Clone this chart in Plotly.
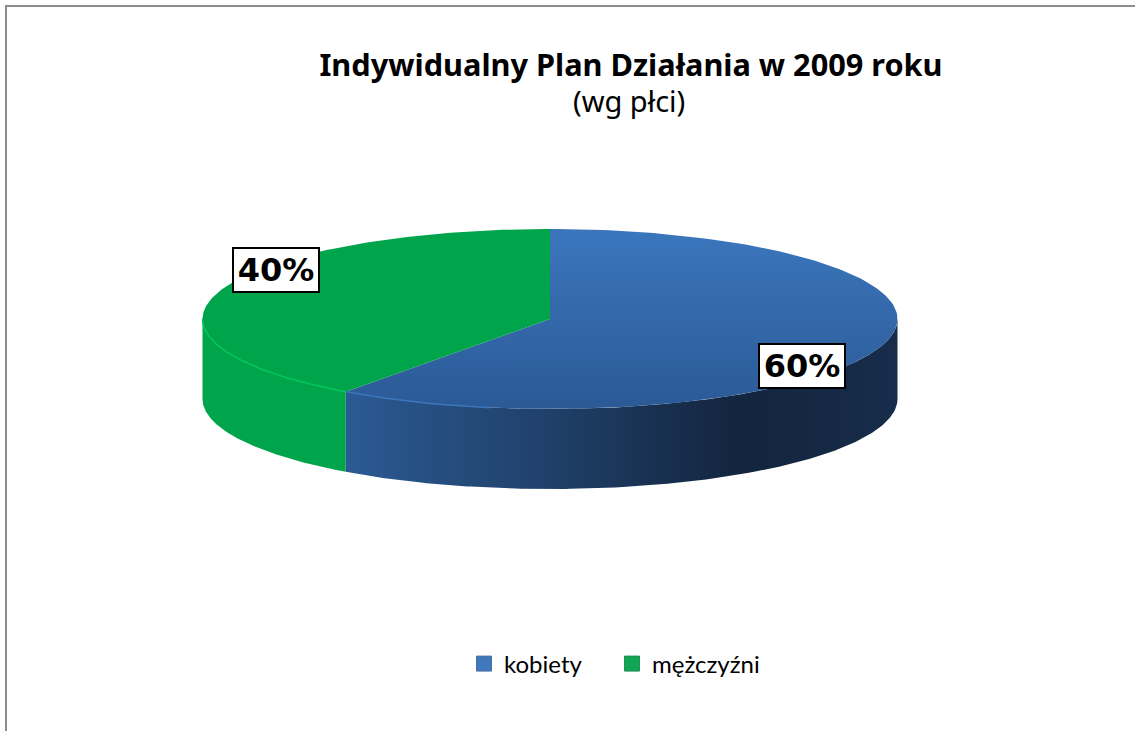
import numpy as np
import plotly.graph_objects as go

# data
categories = ["kobiety", "mężczyźni"]
shares = [60, 40]
top_colors = [["#3b76bd", "#2b5a96"], ["#00a44a", "#00a44a"]]
legend_colors = ["#3f78bd", "#10a655"]
legend_borders = ["#4a6f9c", "#1f8f58"]

W, H = 1135, 731
# pie geometry, in pixels of the page (y measured upwards)
CX, CY = 550, H - 319
RX, RY = 347.5, 90
DEPTH = 80


def arc(a, b, drop=0):
    t = np.radians(np.linspace(a, b, 200))
    return CX + RX * np.sin(t), CY + RY * np.cos(t) - drop


def top_slice(a, b):
    x, y = arc(a, b)
    return np.r_[CX, x, CX], np.r_[CY, y, CY]


def side_slice(a, b):
    x1, y1 = arc(a, b)
    x2, y2 = arc(b, a, DEPTH)
    return np.r_[x1, x2, x1[0]], np.r_[y1, y2, y1[0]]


fig = go.Figure()

edges = np.r_[0, np.cumsum(shares)] * 360 / sum(shares)

# side walls first, only the front half can be seen
side_scale = [[0, "#2b5a93"], [0.37, "#1f4069"], [0.72, "#13243e"], [1, "#172d4b"]]
a, b = max(edges[0], 90), min(edges[1], 270)
x, y = side_slice(a, b)
fig.add_trace(go.Scatter(x=x, y=y, mode="lines", line=dict(width=0), fill="toself",
                         fillgradient=dict(type="horizontal", colorscale=side_scale),
                         showlegend=False, hoverinfo="skip"))
a, b = max(edges[1], 90), min(edges[2], 270)
x, y = side_slice(a, b)
fig.add_trace(go.Scatter(x=x, y=y, mode="lines", line=dict(width=0), fill="toself",
                         fillcolor="#00a44a", showlegend=False, hoverinfo="skip"))

# top faces
for i in range(len(shares)):
    x, y = top_slice(edges[i], edges[i + 1])
    scale = [[0, top_colors[i][1]], [1, top_colors[i][0]]]
    fig.add_trace(go.Scatter(x=x, y=y, mode="lines", line=dict(width=0), fill="toself",
                             fillgradient=dict(type="vertical", colorscale=scale),
                             showlegend=False, hoverinfo="skip"))

# light rim along the front edge
x, y = arc(edges[1], 270)
fig.add_trace(go.Scatter(x=x, y=y, mode="lines", line=dict(width=1.5, color="#00c85a"),
                         showlegend=False, hoverinfo="skip"))
x, y = arc(edges[1], 190)
fig.add_trace(go.Scatter(x=x, y=y, mode="lines", line=dict(width=1.5, color="#3b76bd"),
                         showlegend=False, hoverinfo="skip"))

# legend entries
for name, color, border in zip(categories, legend_colors, legend_borders):
    fig.add_trace(go.Scatter(x=[None], y=[None], mode="markers", name=name,
                             marker=dict(symbol="square", size=15, color=color,
                                         line=dict(width=1, color=border))))

label_pos = [(801.5, H - 366), (276, H - 270)]
for share, (lx, ly) in zip(shares, label_pos):
    fig.add_annotation(x=lx, y=ly, text=f"<b>{share}%</b>", showarrow=False,
                       font=dict(family="DejaVu Sans", size=32, color="black"),
                       bgcolor="white", bordercolor="black", borderwidth=2, borderpad=2,
                       width=80, height=38)

fig.add_annotation(x=629, y=H - 100, yanchor="middle", text="(wg płci)", showarrow=False,
                   font=dict(family="Noto Sans", size=29, color="black"))

fig.update_layout(
    width=W, height=H,
    margin=dict(l=0, r=0, t=0, b=0),
    paper_bgcolor="white", plot_bgcolor="white",
    title=dict(text="<b>Indywidualny Plan Działania w 2009 roku</b>",
               x=631 / W, xanchor="center", y=1 - 65 / H, yanchor="middle",
               font=dict(family="Noto Sans", size=30.7, color="black")),
    xaxis=dict(range=[0, W], visible=False, fixedrange=True),
    yaxis=dict(range=[0, H], visible=False, fixedrange=True),
    legend=dict(orientation="h", x=464 / W, y=1 - 664 / H, xanchor="left", yanchor="middle",
                entrywidth=103, entrywidthmode="pixels",
                font=dict(family="Lato", size=24, color="black")),
    shapes=[
        dict(type="line", xref="x", yref="y", x0=5, x1=W, y0=H - 6, y1=H - 6,
             line=dict(color="#8c8c8c", width=2)),
        dict(type="line", xref="x", yref="y", x0=6, x1=6, y0=0, y1=H - 5,
             line=dict(color="#8c8c8c", width=2)),
    ],
)

# the frame sits inside the default body margin, so drop that margin
fig.write_html("out.html", config=dict(displayModeBar=False),
               post_script="document.body.style.margin = '0';")
